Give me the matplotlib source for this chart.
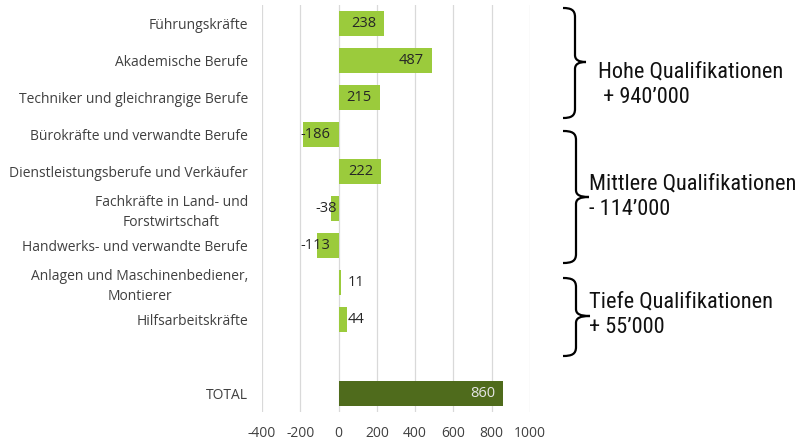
import matplotlib
matplotlib.use("Agg")
import matplotlib.pyplot as plt
from matplotlib.path import Path
from matplotlib.patches import PathPatch
from matplotlib import font_manager as fm

categories = ["Führungskräfte", "Akademische Berufe", "Techniker und gleichrangige Berufe",
              "Bürokräfte und verwandte Berufe", "Dienstleistungsberufe und Verkäufer",
              "Fachkräfte in Land- und\nForstwirtschaft", "Handwerks- und verwandte Berufe",
              "Anlagen und Maschinenbediener,\nMontierer", "Hilfsarbeitskräfte", "", "TOTAL"]
values = [238, 487, 215, -186, 222, -38, -113, 11, 44, None, 860]
xticks = [-400, -200, 0, 200, 400, 600, 800, 1000]

groups = ["Hohe Qualifikationen\n + 940’000", "Mittlere Qualifikationen\n- 114’000",
          "Tiefe Qualifikationen\n+ 55’000"]

fl = fm.fontManager.ttflist
names = {f.name for f in fl}
base_font = "Open Sans" if "Open Sans" in names else "DejaVu Sans"

# choose a condensed face for the bracket notes
if "Roboto Condensed" in names:
    note_fp = fm.FontProperties(family="Roboto Condensed")
elif "Liberation Sans Narrow" in names:
    note_fp = fm.FontProperties(family="Liberation Sans Narrow")
elif any(f.name == "DejaVu Sans" and f.stretch == "condensed" and f.weight in (400, "normal")
         for f in fl):
    note_fp = fm.FontProperties(family="DejaVu Sans", stretch="condensed")
else:
    note_fp = fm.FontProperties(family="Roboto")

LIGHT = "#9BCB3C"
DARK = "#4F6B1C"
TXT = "#404040"

W, H = 800, 443
fig = plt.figure(figsize=(W / 100, H / 100), dpi=100)
ax = fig.add_axes([262 / W, 1 - 412 / H, 268 / W, 407 / H])

ypos = list(range(len(categories)))
for y, v in zip(ypos, values):
    if v is None:
        continue
    col = DARK if categories[y] == "TOTAL" else LIGHT
    ax.barh(y, v, height=0.65, color=col, zorder=3)

ax.set_xlim(-400, 1000)
ax.set_ylim(len(categories) - 0.5, -0.5)
ax.set_xticks(xticks)
ax.set_xticklabels([str(t) for t in xticks])
ax.set_yticks(ypos)
ax.set_yticklabels(categories, multialignment="center", linespacing=1.45)
ax.tick_params(axis="both", length=0, labelcolor=TXT)
ax.tick_params(axis="x", pad=10, labelsize=10)
ax.tick_params(axis="y", pad=10, labelsize=10)
for lab in ax.get_yticklabels() + ax.get_xticklabels():
    lab.set_fontfamily(base_font)
for s in ax.spines.values():
    s.set_visible(False)
ax.grid(axis="x", color="#D9D9D9", linewidth=0.9, zorder=0)
ax.set_axisbelow(True)

ppu = 268 / 1400.0
pt = 0.72
for y, v in zip(ypos, values):
    if v is None:
        continue
    tc = "#E6E6E6" if categories[y] == "TOTAL" else "#262626"
    if v > 0 and v * ppu > 40:
        x, dx, ha = v, -8, "right"
    elif v > 0:
        x, dx, ha = 0, 9, "left"
    elif abs(v) * ppu > 15:
        x, dx, ha = 0, -8, "right"
    else:
        x, dx, ha = v, 6, "right"
    ax.annotate(str(v), (x, y), xytext=(dx * pt, 0), textcoords="offset points",
                ha=ha, va="center", fontsize=10.5, color=tc, family=base_font, zorder=5)

# overlay for brackets and group text (pixel coordinates)
ov = fig.add_axes([0, 0, 1, 1], facecolor="none")
ov.set_xlim(0, W)
ov.set_ylim(H, 0)
ov.axis("off")

brackets = [(8, 118, 62, 575, 586), (131, 263, 197, 576, 589), (278, 356, 316, 576, 590)]
for top, bot, tip, vx, tx in brackets:
    ex = 563
    verts = [(ex, top), (vx - 4, top), (vx, top + 2), (vx, top + 9),
             (vx, tip - 7),
             (vx, tip - 2), (vx + 4, tip), (tx, tip),
             (vx + 4, tip), (vx, tip + 2), (vx, tip + 7),
             (vx, bot - 9),
             (vx, bot - 2), (vx - 4, bot), (ex, bot)]
    codes = [Path.MOVETO, Path.CURVE4, Path.CURVE4, Path.CURVE4,
             Path.LINETO,
             Path.CURVE4, Path.CURVE4, Path.CURVE4,
             Path.CURVE4, Path.CURVE4, Path.CURVE4,
             Path.LINETO,
             Path.CURVE4, Path.CURVE4, Path.CURVE4]
    ov.add_patch(PathPatch(Path(verts, codes), fill=False, lw=1.6, edgecolor="black"))

# size the notes so that the widest line is ~208 px wide, like the reference
probe = fig.text(0, 0, "Mittlere Qualifikationen", fontproperties=note_fp, fontsize=14)
fig.canvas.draw()
w = probe.get_window_extent().width
probe.remove()
note_size = 14 * 208.0 / w

text_pos = [(598, 85), (589, 197), (589, 315)]
for (x, y), t in zip(text_pos, groups):
    ov.text(x, y, t, ha="left", va="center", fontproperties=note_fp, fontsize=note_size,
            color="#111111", linespacing=1.3)

fig.savefig("out.png", dpi=100)
